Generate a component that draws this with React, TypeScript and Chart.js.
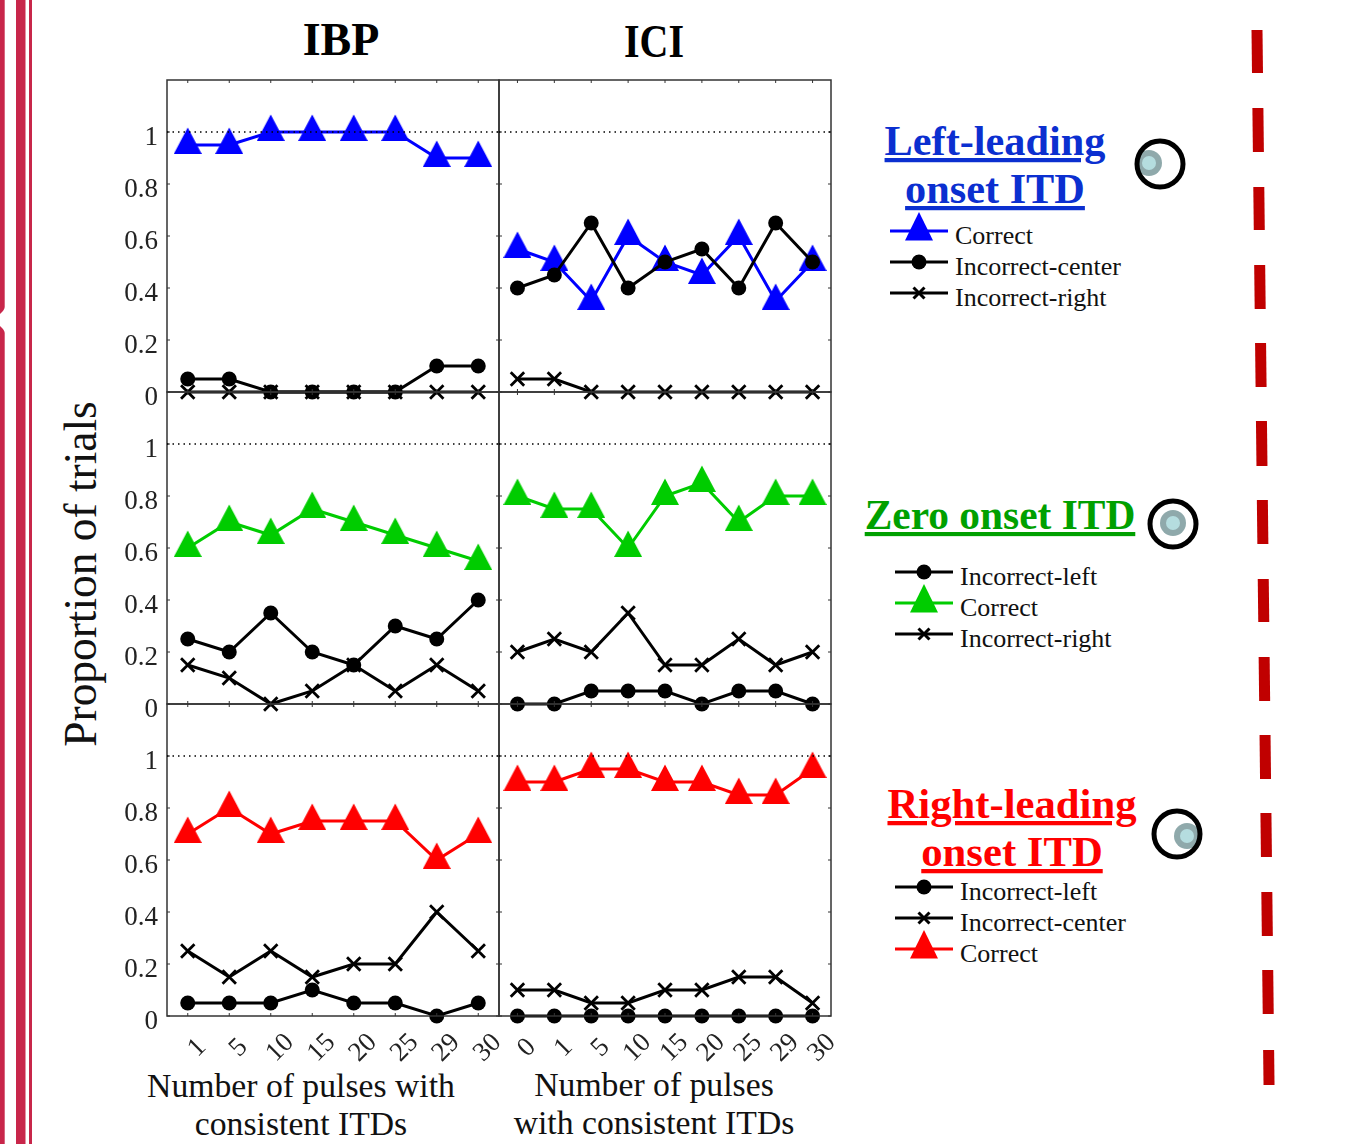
import React, { useEffect, useRef } from "react";
import { Chart, registerables } from "chart.js";

Chart.register(...registerables);

const ibpLabels = ["1", "5", "10", "15", "20", "25", "29", "30"];
const iciLabels = ["0", "1", "5", "10", "15", "20", "25", "29", "30"];
const yTicks = [0, 0.2, 0.4, 0.6, 0.8, 1];

const ibpLeftCorrect = [0.95, 0.95, 1, 1, 1, 1, 0.9, 0.9];
const ibpLeftCenter = [0.05, 0.05, 0, 0, 0, 0, 0.1, 0.1];
const ibpLeftRight = [0, 0, 0, 0, 0, 0, 0, 0];

const iciLeftCorrect = [0.55, 0.5, 0.35, 0.6, 0.5, 0.45, 0.6, 0.35, 0.5];
const iciLeftCenter = [0.4, 0.45, 0.65, 0.4, 0.5, 0.55, 0.4, 0.65, 0.5];
const iciLeftRight = [0.05, 0.05, 0, 0, 0, 0, 0, 0, 0];

const ibpZeroCorrect = [0.6, 0.7, 0.65, 0.75, 0.7, 0.65, 0.6, 0.55];
const ibpZeroLeft = [0.25, 0.2, 0.35, 0.2, 0.15, 0.3, 0.25, 0.4];
const ibpZeroRight = [0.15, 0.1, 0, 0.05, 0.15, 0.05, 0.15, 0.05];

const iciZeroCorrect = [0.8, 0.75, 0.75, 0.6, 0.8, 0.85, 0.7, 0.8, 0.8];
const iciZeroLeft = [0, 0, 0.05, 0.05, 0.05, 0, 0.05, 0.05, 0];
const iciZeroRight = [0.2, 0.25, 0.2, 0.35, 0.15, 0.15, 0.25, 0.15, 0.2];

const ibpRightCorrect = [0.7, 0.8, 0.7, 0.75, 0.75, 0.75, 0.6, 0.7];
const ibpRightCenter = [0.25, 0.15, 0.25, 0.15, 0.2, 0.2, 0.4, 0.25];
const ibpRightLeft = [0.05, 0.05, 0.05, 0.1, 0.05, 0.05, 0, 0.05];

const iciRightCorrect = [0.9, 0.9, 0.95, 0.95, 0.9, 0.9, 0.85, 0.85, 0.95];
const iciRightCenter = [0.1, 0.1, 0.05, 0.05, 0.1, 0.1, 0.15, 0.15, 0.05];
const iciRightLeft = [0, 0, 0, 0, 0, 0, 0, 0, 0];

const BLUE = "#0000ff";
const GREEN = "#00cc00";
const RED = "#ff0000";
const SERIF = '"Liberation Serif", serif';

function triangle(color: string) {
  const c = document.createElement("canvas");
  c.width = 28;
  c.height = 36;
  const g = c.getContext("2d")!;
  g.fillStyle = color;
  g.beginPath();
  g.moveTo(14, 0.5);
  g.lineTo(28, 27);
  g.lineTo(0, 27);
  g.closePath();
  g.fill();
  return c;
}

const correct = (data: number[], color: string) => ({
  data,
  borderColor: color,
  backgroundColor: color,
  borderWidth: 3,
  pointStyle: triangle(color),
  pointRadius: 14,
  clip: false,
  order: 3,
});
const circle = (data: number[]) => ({
  data,
  borderColor: "#000",
  backgroundColor: "#000",
  borderWidth: 3,
  pointStyle: "circle",
  pointRadius: 7.5,
  pointBorderWidth: 0,
  clip: false,
  order: 1,
});
const cross = (data: number[]) => ({
  data,
  borderColor: "#000",
  backgroundColor: "#000",
  borderWidth: 3,
  pointStyle: "crossRot",
  pointRadius: 9.5,
  pointBorderWidth: 2.8,
  clip: false,
  order: 2,
});

const framePlugin = {
  id: "frame",
  afterDatasetsDraw(chart: any) {
    const { ctx, chartArea: a, scales } = chart;
    const x = scales.x;
    const y = scales.y;
    ctx.save();
    ctx.strokeStyle = "#333";
    ctx.lineWidth = 1.5;
    ctx.strokeRect(a.left, a.top, a.right - a.left, a.bottom - a.top);
    ctx.lineWidth = 1;
    ctx.beginPath();
    x.ticks.forEach((_: any, i: number) => {
      const px = x.getPixelForTick(i);
      ctx.moveTo(px, a.top);
      ctx.lineTo(px, a.top + 3);
      ctx.moveTo(px, a.bottom);
      ctx.lineTo(px, a.bottom - 3);
    });
    yTicks.forEach((v) => {
      const py = y.getPixelForValue(v);
      ctx.moveTo(a.left, py);
      ctx.lineTo(a.left + 3, py);
      ctx.moveTo(a.right, py);
      ctx.lineTo(a.right - 3, py);
    });
    ctx.stroke();
    const one = y.getPixelForValue(1);
    ctx.strokeStyle = "#000";
    ctx.lineWidth = 1.5;
    ctx.setLineDash([1.5, 4]);
    ctx.beginPath();
    ctx.moveTo(a.left, one);
    ctx.lineTo(a.right, one);
    ctx.stroke();
    ctx.restore();
  },
};

type PanelProps = {
  left: number;
  top: number;
  labels: string[];
  series: any[];
  showY: boolean;
  showX: boolean;
};

const LEFT_PAD = 70;
const PANEL_W = 332;
const PANEL_H = 312;
const BOTTOM_PAD = 60;
const TOP_PAD = 20;
const RIGHT_PAD = 20;

function Panel({ left, top, labels, series, showY, showX }: PanelProps) {
  const ref = useRef<HTMLCanvasElement>(null);
  useEffect(() => {
    const chart = new Chart(ref.current!, {
      type: "line",
      data: { labels, datasets: series },
      plugins: [framePlugin],
      options: {
        animation: false,
        responsive: false,
        events: [],
        layout: { padding: { top: TOP_PAD, right: RIGHT_PAD, left: 0, bottom: 0 } },
        plugins: { legend: { display: false }, tooltip: { enabled: false }, title: { display: false } },
        elements: { line: { tension: 0 } },
        scales: {
          x: {
            type: "category",
            offset: true,
            grid: { display: false },
            border: { display: false },
            afterFit: (s: any) => {
              s.height = BOTTOM_PAD;
              s.paddingLeft = 0;
              s.paddingRight = 0;
            },
            ticks: {
              display: showX,
              autoSkip: false,
              maxRotation: 45,
              minRotation: 45,
              labelOffset: 19,
              padding: 3,
              color: "#222",
              font: { family: SERIF, size: 27 },
              callback(this: any, v: any) {
                const s = this.getLabelForValue(v);
                return s.length === 1 ? s + " " : s;
              },
            },
          },
          y: {
            type: "linear",
            min: 0,
            max: 1.2,
            grid: { display: false },
            border: { display: false },
            afterBuildTicks: (s: any) => {
              s.ticks = yTicks.map((value) => ({ value }));
            },
            afterFit: (s: any) => {
              s.width = LEFT_PAD;
              s.paddingTop = 0;
              s.paddingBottom = 0;
            },
            ticks: {
              display: showY,
              labelOffset: 6,
              padding: 1,
              color: "#222",
              font: { family: SERIF, size: 27 },
              callback: (v: any) => String(Number(v)),
            },
          },
        },
      } as any,
    });
    return () => chart.destroy();
  }, []);
  return (
    <canvas
      ref={ref}
      width={LEFT_PAD + PANEL_W + RIGHT_PAD}
      height={TOP_PAD + PANEL_H + BOTTOM_PAD}
      style={{ position: "absolute", left: left - LEFT_PAD, top: top - TOP_PAD, width: LEFT_PAD + PANEL_W + RIGHT_PAD, height: TOP_PAD + PANEL_H + BOTTOM_PAD }}
    />
  );
}

const txt = { fontFamily: SERIF, fill: "#111" };

function LegendRow({ x, y, label, kind, color, tx }: { x: number; y: number; label: string; kind: string; color?: string; tx: number }) {
  const c = color || "#000";
  const mid = x + 29;
  return (
    <g>
      <line x1={x} x2={x + 58} y1={y} y2={y} stroke={c} strokeWidth={3} />
      {kind === "tri" && <polygon points={`${mid},${y - 19} ${mid + 14},${y + 9.5} ${mid - 14},${y + 9.5}`} fill={c} />}
      {kind === "dot" && <circle cx={mid} cy={y} r={7.5} fill={c} />}
      {kind === "x" && (
        <path d={`M${mid - 5.5},${y - 5.5}L${mid + 5.5},${y + 5.5}M${mid - 5.5},${y + 5.5}L${mid + 5.5},${y - 5.5}`} stroke={c} strokeWidth={3} />
      )}
      <text x={tx} y={y + 13} fontSize={26} {...txt}>
        {label}
      </text>
    </g>
  );
}

function Ear({ x, y, dx, dy }: { x: number; y: number; dx: number; dy: number }) {
  return (
    <g>
      <circle cx={x + dx} cy={y + dy} r={13} fill="#8fa9ab" />
      <circle cx={x + dx} cy={y + dy} r={7} fill="#b5dddf" />
      <circle cx={x} cy={y} r={23} fill="none" stroke="#000" strokeWidth={5} />
    </g>
  );
}

function Heading({ x, y, color, text, size }: { x: number; y: number; color: string; text: string; size: number }) {
  return (
    <text x={x} y={y} textAnchor="middle" fontSize={size} fontWeight="bold" fontFamily={SERIF} fill={color} textDecoration="underline">
      {text}
    </text>
  );
}

const dashStart = [30, 108, 187, 265, 343, 421, 500, 579, 657, 735, 813, 892, 970, 1050];
const dashEnd = [73, 152, 230, 309, 387, 466, 544, 622, 701, 779, 857, 936, 1014, 1085];

function Overlay() {
  const dx = (v: number) => 1257 + (v - 30) * 0.0114;
  return (
    <svg width={1355} height={1144} style={{ position: "absolute", left: 0, top: 0 }}>
      <path d="M0,0H4.7V307Q4.7,310 0,314Z" fill="#c8264a" />
      <path d="M0,326Q4.7,330 4.7,333V1144H0Z" fill="#c8264a" />
      <rect x={16} y={0} width={9.5} height={1144} fill="#c8264a" />
      <rect x={29} y={0} width={3} height={1144} fill="#c8264a" />
      {dashStart.map((d, i) => (
        <line key={i} x1={dx(d)} x2={dx(dashEnd[i])} y1={d} y2={dashEnd[i]} stroke="#c00000" strokeWidth={11} />
      ))}
      <text x={341} y={55} textAnchor="middle" fontSize={46} fontWeight="bold" fontFamily={SERIF} fill="#000">IBP</text>
      <text x={654} y={57} textAnchor="middle" fontSize={46} fontWeight="bold" fontFamily={SERIF} fill="#000" textLength={60} lengthAdjust="spacingAndGlyphs">ICI</text>
      <text transform="translate(96,574) rotate(-90)" textAnchor="middle" fontSize={45.4} {...txt}>Proportion of trials</text>
      <text x={301} y={1097} textAnchor="middle" fontSize={33.7} {...txt}>Number of pulses with</text>
      <text x={301} y={1135} textAnchor="middle" fontSize={33.7} {...txt}>consistent ITDs</text>
      <text x={654} y={1096} textAnchor="middle" fontSize={33.7} {...txt}>Number of pulses</text>
      <text x={654} y={1134} textAnchor="middle" fontSize={33.7} {...txt}>with consistent ITDs</text>

      <Heading x={995} y={155} size={42.3} color="#0b2fd0" text="Left-leading" />
      <Heading x={995} y={203} size={42.3} color="#0b2fd0" text="onset ITD" />
      <LegendRow x={890} y={231} tx={955} label="Correct" kind="tri" color={BLUE} />
      <LegendRow x={890} y={262} tx={955} label="Incorrect-center" kind="dot" />
      <LegendRow x={890} y={293} tx={955} label="Incorrect-right" kind="x" />
      <Ear x={1160} y={164} dx={-11} dy={-1} />

      <Heading x={1000} y={529} size={41.4} color="#00a000" text="Zero onset ITD" />
      <LegendRow x={895} y={572} tx={960} label="Incorrect-left" kind="dot" />
      <LegendRow x={895} y={603} tx={960} label="Correct" kind="tri" color={GREEN} />
      <LegendRow x={895} y={634} tx={960} label="Incorrect-right" kind="x" />
      <Ear x={1173} y={524} dx={0} dy={-1} />

      <Heading x={1012} y={818} size={42.7} color="#ff0000" text="Right-leading" />
      <Heading x={1012} y={866} size={42.7} color="#ff0000" text="onset ITD" />
      <LegendRow x={895} y={887} tx={960} label="Incorrect-left" kind="dot" />
      <LegendRow x={895} y={918} tx={960} label="Incorrect-center" kind="x" />
      <LegendRow x={895} y={949} tx={960} label="Correct" kind="tri" color={RED} />
      <Ear x={1177} y={834} dx={10} dy={2} />
    </svg>
  );
}

export default function App() {
  return (
    <div style={{ position: "absolute", left: 0, top: 0, width: 1355, height: 1144, overflow: "hidden" }}>
      <Overlay />
      <Panel left={167} top={80} labels={ibpLabels} showY showX={false} series={[correct(ibpLeftCorrect, BLUE), circle(ibpLeftCenter), cross(ibpLeftRight)]} />
      <Panel left={499} top={80} labels={iciLabels} showY={false} showX={false} series={[correct(iciLeftCorrect, BLUE), circle(iciLeftCenter), cross(iciLeftRight)]} />
      <Panel left={167} top={392} labels={ibpLabels} showY showX={false} series={[correct(ibpZeroCorrect, GREEN), circle(ibpZeroLeft), cross(ibpZeroRight)]} />
      <Panel left={499} top={392} labels={iciLabels} showY={false} showX={false} series={[correct(iciZeroCorrect, GREEN), circle(iciZeroLeft), cross(iciZeroRight)]} />
      <Panel left={167} top={704} labels={ibpLabels} showY showX series={[correct(ibpRightCorrect, RED), circle(ibpRightLeft), cross(ibpRightCenter)]} />
      <Panel left={499} top={704} labels={iciLabels} showY={false} showX series={[correct(iciRightCorrect, RED), circle(iciRightLeft), cross(iciRightCenter)]} />
    </div>
  );
}
